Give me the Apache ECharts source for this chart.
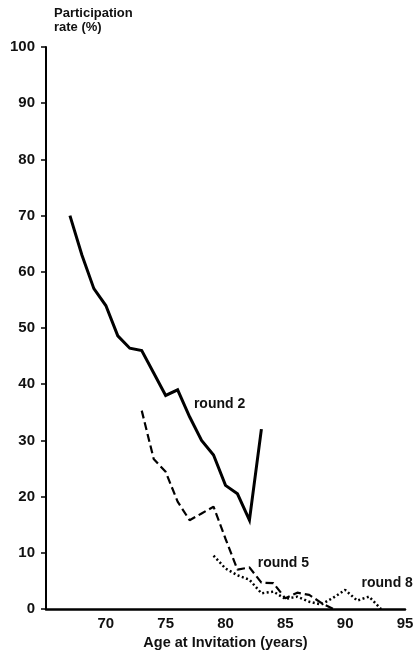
<!DOCTYPE html>
<html>
<head>
<meta charset="utf-8">
<script src="https://cdn.jsdelivr.net/npm/echarts@6/dist/echarts.min.js"></script>
<style>
  html, body { margin: 0; padding: 0; background: #fff; }
  #chart { width: 413px; height: 652px; }
</style>
</head>
<body>
<div id="chart"></div>
<script>
// Participation rate by age at invitation, per screening round
const round2Ages = [67, 68, 69, 70, 71, 72, 73, 74, 75, 76, 77, 78, 79, 80, 81, 82, 83];
const round2Rates = [70, 63, 57, 54, 48.6, 46.4, 46, 42, 38, 39, 34.2, 30, 27.4, 22, 20.5, 15.8, 32];

const round5Ages = [73, 74, 75, 76, 77, 78, 79, 80, 81, 82, 83, 84, 85, 86, 87, 88, 89];
const round5Rates = [35.3, 26.7, 24.4, 19.1, 15.8, 17, 18.2, 12.5, 7, 7.4, 4.7, 4.6, 1.9, 2.9, 2.5, 1.1, 0];

const round8Ages = [79, 80, 81, 82, 83, 84, 85, 86, 87, 88, 89, 90, 91, 92, 93];
const round8Rates = [9.5, 7.2, 6, 5.2, 2.8, 3.1, 1.8, 2.2, 1.3, 0.8, 2, 3.4, 1.5, 2.2, 0];

const seriesNames = ['round 2', 'round 5', 'round 8'];
// anchor points (age, rate) where each round's name is written
const labelAnchors = [[77.36, 36.5], [82.69, 8.24], [91.37, 4.63]];

const FONT = '"Liberation Sans", Arial, Helvetica, sans-serif';
const INK = '#111';

function pairs(xs, ys) {
  return xs.map((x, i) => [x, ys[i]]);
}

function nameMark(idx) {
  return {
    silent: true,
    symbol: 'circle',
    symbolSize: 0,
    label: {
      show: true,
      position: 'right',
      distance: 0,
      color: INK,
      fontFamily: FONT,
      fontWeight: 'bold',
      fontSize: 14,
      formatter: seriesNames[idx]
    },
    data: [{ coord: labelAnchors[idx] }]
  };
}

const chart = echarts.init(document.getElementById('chart'), null, { renderer: 'canvas' });

chart.setOption({
  animation: false,
  backgroundColor: '#fff',
  title: {
    text: 'Participation\nrate (%)',
    left: 54,
    top: 6,
    padding: 0,
    textStyle: {
      fontFamily: FONT,
      fontWeight: 'bold',
      fontSize: 13,
      lineHeight: 14,
      color: INK
    }
  },
  grid: { left: 46, right: 8, top: 47, bottom: 43, containLabel: false, outerBoundsMode: 'none' },
  xAxis: {
    type: 'value',
    min: 65,
    max: 95,
    interval: 5,
    name: 'Age at Invitation (years)',
    nameLocation: 'middle',
    nameGap: 26,
    nameTextStyle: { fontFamily: FONT, fontWeight: 'bold', fontSize: 14.5, color: INK },
    splitLine: { show: false },
    axisTick: { show: false },
    axisLine: { show: true, lineStyle: { color: '#000', width: 2.5 } },
    axisLabel: {
      showMinLabel: false,
      margin: 7,
      fontFamily: FONT,
      fontWeight: 'bold',
      fontSize: 15,
      color: INK
    }
  },
  yAxis: {
    type: 'value',
    min: 0,
    max: 100,
    interval: 10,
    splitLine: { show: false },
    axisLine: { show: true, lineStyle: { color: '#000', width: 2 } },
    axisTick: { show: true, inside: false, length: 5, lineStyle: { color: '#000', width: 1.5 } },
    axisLabel: {
      margin: 11,
      fontFamily: FONT,
      fontWeight: 'bold',
      fontSize: 15,
      color: INK
    }
  },
  series: [
    {
      name: seriesNames[0],
      type: 'line',
      data: pairs(round2Ages, round2Rates),
      showSymbol: false,
      lineStyle: { color: '#000', width: 3, type: 'solid', join: 'miter' },
      markPoint: nameMark(0),
      z: 3
    },
    {
      name: seriesNames[1],
      type: 'line',
      data: pairs(round5Ages, round5Rates),
      showSymbol: false,
      lineStyle: { color: '#000', width: 2.2, type: [8, 4] },
      markPoint: nameMark(1),
      z: 2
    },
    {
      name: seriesNames[2],
      type: 'line',
      data: pairs(round8Ages, round8Rates),
      showSymbol: false,
      lineStyle: { color: '#000', width: 2.5, type: [2, 2.5] },
      markPoint: nameMark(2),
      z: 2
    }
  ]
});
</script>
</body>
</html>
